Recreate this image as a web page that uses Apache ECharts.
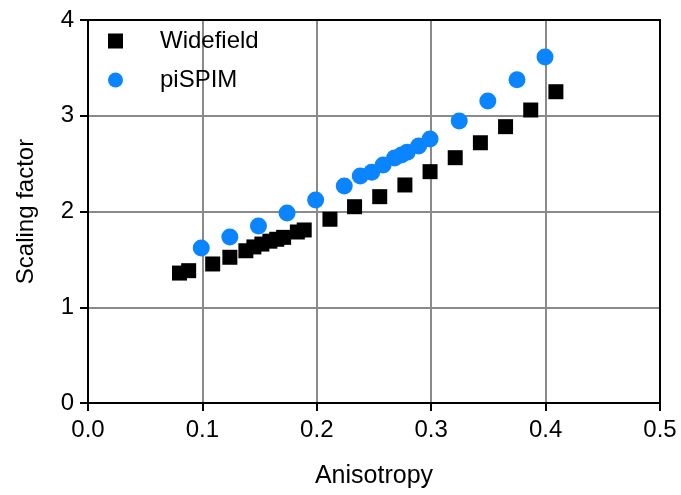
<!DOCTYPE html>
<html>
<head>
<meta charset="utf-8">
<script src="https://cdn.jsdelivr.net/npm/echarts@6/dist/echarts.min.js"></script>
<style>
  html, body { margin: 0; padding: 0; background: #fff; }
  #main { width: 681px; height: 495px; }
</style>
</head>
<body>
<div id="main"></div>
<script>
// Widefield (squares)
var wideX = [0.080, 0.088, 0.109, 0.124, 0.138, 0.145, 0.152, 0.159, 0.165, 0.171, 0.183, 0.189,
             0.2115, 0.233, 0.255, 0.277, 0.299, 0.321, 0.343, 0.365, 0.387, 0.409];
var wideY = [1.357, 1.382, 1.452, 1.522, 1.59, 1.63, 1.66, 1.69, 1.71, 1.73, 1.786, 1.807,
             1.919, 2.05, 2.155, 2.277, 2.416, 2.562, 2.718, 2.886, 3.06, 3.251];
// piSPIM (circles)
var spimX = [0.099, 0.124, 0.149, 0.174, 0.199, 0.224, 0.238, 0.248, 0.258, 0.268, 0.274, 0.279,
             0.289, 0.299, 0.3245, 0.3495, 0.375, 0.3995];
var spimY = [1.619, 1.734, 1.849, 1.984, 2.12, 2.266, 2.37, 2.41, 2.486, 2.559, 2.59, 2.62,
             2.684, 2.757, 2.945, 3.154, 3.376, 3.614];

function pairs(xs, ys) {
  return xs.map(function (x, i) { return [x, ys[i]]; });
}

var font = 'Liberation Sans, Arial, Helvetica, sans-serif';
var myChart = echarts.init(document.getElementById('main'));

myChart.setOption({
  animation: false,
  textStyle: { fontFamily: font },
  grid: { left: 88, right: 21, top: 20, bottom: 92 },
  legend: {
    left: 108, top: 29, padding: 0,
    orient: 'vertical',
    itemWidth: 15, itemHeight: 15, itemGap: 15,
    textStyle: { fontSize: 24, color: '#000', fontFamily: font, padding: [0, 0, 0, 32] },
    data: [
      { name: 'Widefield', icon: 'rect' },
      { name: 'piSPIM', icon: 'circle' }
    ]
  },
  xAxis: [{
    type: 'value', min: 0, max: 0.5, interval: 0.1,
    name: 'Anisotropy', nameLocation: 'middle', nameGap: 61,
    nameTextStyle: { fontSize: 25, color: '#000' },
    axisLine: { lineStyle: { color: '#000', width: 2 } },
    axisTick: { show: true, length: 8, lineStyle: { color: '#000', width: 2 } },
    axisLabel: { fontSize: 24, color: '#000', margin: 15,
      formatter: function (v) { return v.toFixed(1); } },
    splitLine: { show: true, lineStyle: { color: '#8a8a8a', width: 2 } }
  }, {
    type: 'value', position: 'top', min: 0, max: 0.5, interval: 0.1,
    axisLine: { show: true, onZero: false, lineStyle: { color: '#000', width: 2 } },
    axisTick: { show: false }, axisLabel: { show: false }, splitLine: { show: false }
  }],
  yAxis: [{
    type: 'value', min: 0, max: 4, interval: 1,
    name: 'Scaling factor', nameLocation: 'middle', nameGap: 50,
    nameTextStyle: { fontSize: 24, color: '#000' },
    axisLine: { show: true, lineStyle: { color: '#000', width: 2 } },
    axisTick: { show: true, length: 8, lineStyle: { color: '#000', width: 2 } },
    axisLabel: { fontSize: 24, color: '#000', margin: 14 },
    splitLine: { show: true, lineStyle: { color: '#8a8a8a', width: 2 } }
  }, {
    type: 'value', position: 'right', min: 0, max: 4, interval: 1,
    axisLine: { show: true, onZero: false, lineStyle: { color: '#000', width: 2 } },
    axisTick: { show: false }, axisLabel: { show: false }, splitLine: { show: false }
  }],
  series: [{
    name: 'Widefield', type: 'scatter', symbol: 'rect', symbolSize: 15,
    itemStyle: { color: '#000', opacity: 1 },
    data: pairs(wideX, wideY)
  }, {
    name: 'piSPIM', type: 'scatter', symbol: 'circle', symbolSize: 17,
    itemStyle: { color: '#0a84ff', opacity: 1 },
    data: pairs(spimX, spimY)
  }]
});
</script>
</body>
</html>
